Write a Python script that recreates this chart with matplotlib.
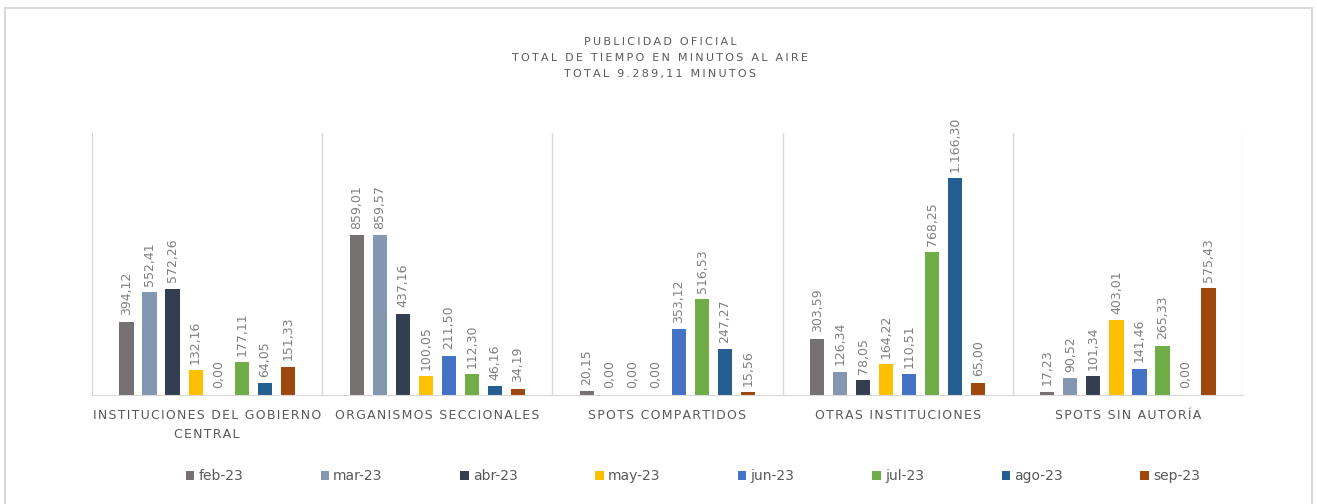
import numpy as np
import matplotlib.pyplot as plt
from matplotlib.patches import Rectangle

categorias = ["INSTITUCIONES DEL GOBIERNO\nCENTRAL", "ORGANISMOS SECCIONALES",
              "SPOTS COMPARTIDOS", "OTRAS INSTITUCIONES", "SPOTS SIN AUTORÍA"]
meses = ["feb-23", "mar-23", "abr-23", "may-23", "jun-23", "jul-23", "ago-23", "sep-23"]
colores = ["#767171", "#8497B0", "#333F50", "#FFC000", "#4472C4", "#70AD47", "#255E91", "#9E480E"]

feb = [394.12, 859.01, 20.15, 303.59, 17.23]
mar = [552.41, 859.57, 0.00, 126.34, 90.52]
abr = [572.26, 437.16, 0.00, 78.05, 101.34]
may = [132.16, 100.05, 0.00, 164.22, 403.01]
jun = [0.00, 211.50, 353.12, 110.51, 141.46]
jul = [177.11, 112.30, 516.53, 768.25, 265.33]
ago = [64.05, 46.16, 247.27, 1166.30, 0.00]
sep = [151.33, 34.19, 15.56, 65.00, 575.43]
series = [feb, mar, abr, may, jun, jul, ago, sep]

gris = "#595959"


def espaciar(s, sep="\u200a"):
    return "\n".join(sep.join(linea) for linea in s.split("\n"))


def fmt(v):
    s = f"{v:,.2f}"
    return s.replace(",", "X").replace(".", ",").replace("X", ".")


fig = plt.figure(figsize=(13.17, 5.04), dpi=100)
fig.patches.append(Rectangle((0.004, -0.01), 0.992, 0.995, transform=fig.transFigure,
                             fill=False, edgecolor="#D9D9D9", linewidth=1.5))
ax = fig.add_axes([0.0699, 0.2163, 0.8739, 0.5197])

x = np.arange(len(categorias))
for i, (vals, c, m) in enumerate(zip(series, colores, meses)):
    pos = x + (i - 3.5) * 0.1
    bars = ax.bar(pos, vals, width=0.062, color=c, label=m)
    for p, v in zip(pos, vals):
        ax.text(p, v + 35, fmt(v), rotation=90, ha="center", va="bottom",
                fontsize=9, color="#7F7F7F")

ax.set_xlim(-0.5, len(categorias) - 0.5)
ax.set_ylim(0, 1410)
ax.set_yticks([])
ax.set_xticks(x)
ax.set_xticklabels([espaciar(c) for c in categorias], fontsize=9, color=gris,
                   linespacing=1.6)
ax.tick_params(axis="x", length=0, pad=10)
for b in np.arange(-0.5, len(categorias), 1.0):
    ax.axvline(b, color="#D9D9D9", linewidth=1, zorder=0)
for s in ["top", "right", "left"]:
    ax.spines[s].set_visible(False)
ax.spines["bottom"].set_color("#D9D9D9")

fig.text(0.501, 0.884, espaciar("PUBLICIDAD OFICIAL\nTOTAL DE TIEMPO EN MINUTOS AL AIRE\nTOTAL 9.289,11 MINUTOS", "\u2009"),
         ha="center", va="center", fontsize=8, color=gris, linespacing=1.75)

fig.legend(loc="center", bbox_to_anchor=(0.526, 0.055), ncol=8, frameon=False,
           fontsize=10, handlelength=0.6, handleheight=0.6, handletextpad=0.3,
           columnspacing=5.6, labelcolor=gris)

plt.savefig("out.png", dpi=100)
